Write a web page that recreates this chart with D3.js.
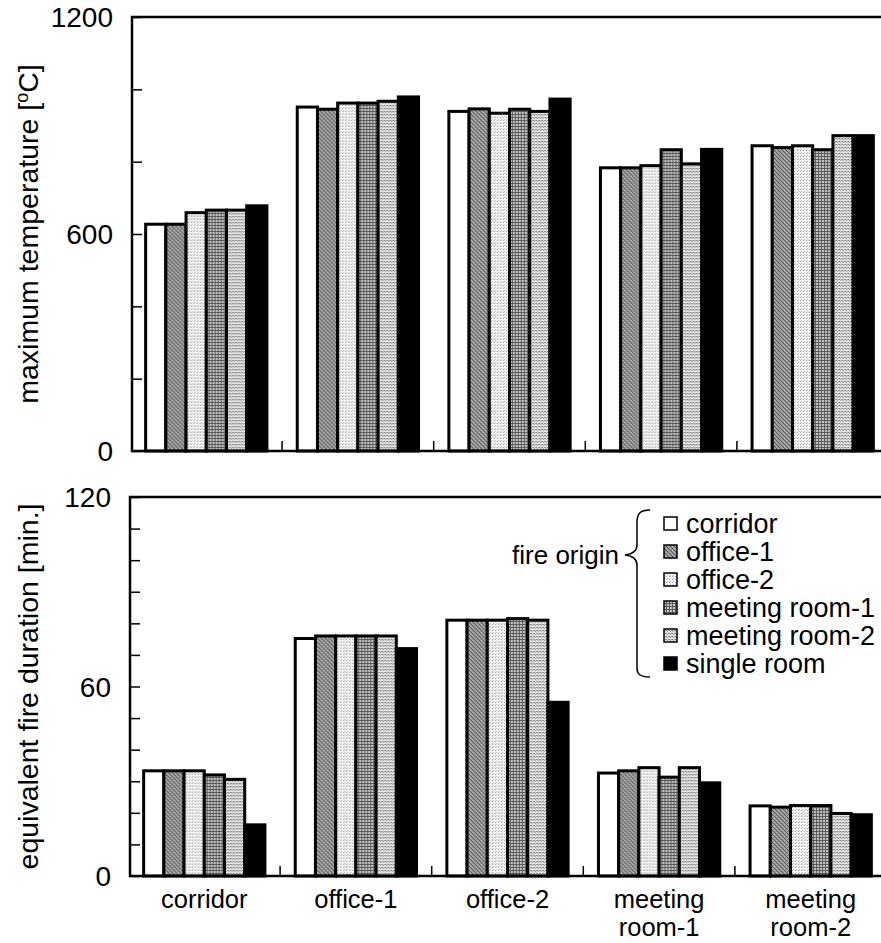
<!DOCTYPE html>
<html>
<head>
<meta charset="utf-8">
<script src="https://cdn.jsdelivr.net/npm/d3@7"></script>
<style>
  body { margin: 0; background: #fff; }
  svg text { font-family: "Liberation Sans", Arial, sans-serif; fill: #000; }
</style>
</head>
<body>
<svg id="chart" width="881" height="943"></svg>
<script>
// room where the fire is measured (x groups)
var rooms = ["corridor", "office-1", "office-2", "meeting room-1", "meeting room-2"];
var roomLabels = [["corridor"], ["office-1"], ["office-2"], ["meeting", "room-1"], ["meeting", "room-2"]];

// fire origin cases (series)
var origins = ["corridor", "office-1", "office-2", "meeting room-1", "meeting room-2", "single room"];

// maximum temperature [oC], one row per room, one value per origin
var maxTemp = [
    [627, 627, 659, 666, 666, 678],
    [951, 945, 962, 962, 967, 979],
    [939, 946, 934, 945, 939, 973],
    [783, 783, 789, 833, 794, 834],
    [844, 839, 844, 833, 872, 872]
];

// equivalent fire duration [min.]
var fireDur = [
    [33.3, 33.3, 33.3, 32.0, 30.6, 16.2],
    [75.2, 76.0, 76.0, 76.0, 76.0, 72.0],
    [81.0, 81.0, 81.0, 81.5, 81.0, 55.0],
    [32.6, 33.3, 34.3, 31.3, 34.3, 29.5],
    [22.2, 21.8, 22.3, 22.3, 19.8, 19.4]
];

var tempTicks = [0, 600, 1200];
var durTicks = [0, 60, 120];

var svg = d3.select("#chart");

//Fill patterns used for the fire origins
var defs = svg.append("defs");

function pattern(id, size, bg, dots) {
    var p = defs.append("pattern")
        .attr("id", id)
        .attr("patternUnits", "userSpaceOnUse")
        .attr("width", size).attr("height", size);
    p.append("rect").attr("width", size).attr("height", size).attr("fill", bg);
    dots.forEach(function (d) {
        p.append("rect").attr("x", d[0]).attr("y", d[1])
            .attr("width", d[2] || 1).attr("height", d[3] || 1).attr("fill", d[4]);
    });
}

pattern("pOffice1", 4, "#9a9a9a", [[0, 0, 1, 1, "#555"], [1, 1, 1, 1, "#555"], [2, 2, 1, 1, "#555"], [3, 3, 1, 1, "#555"], [2, 0, 1, 1, "#bbb"], [0, 2, 1, 1, "#bbb"]]);
pattern("pOffice2", 3, "#f4f4f4", [[0, 0, 1, 1, "#999"], [1, 2, 1, 1, "#bbb"]]);
pattern("pMeet1", 3, "#c4c4c4", [[0, 0, 3, 1, "#5a5a5a"], [0, 0, 1, 3, "#5a5a5a"]]);
pattern("pMeet2", 3, "#e2e2e2", [[0, 0, 1, 1, "#777"], [1, 1, 1, 1, "#999"], [2, 0, 1, 1, "#999"]]);

var fills = ["#fff", "url(#pOffice1)", "url(#pOffice2)", "url(#pMeet1)", "url(#pMeet2)", "#000"];

var rightEdge = 890;

function drawPanel(opts) {

    var g = svg.append("g");

    var x0 = d3.scaleBand()
        .domain(rooms)
        .range([opts.left, opts.left + 755])
        .paddingInner(0.2)
        .paddingOuter(0.09);

    var x1 = d3.scaleBand()
        .domain(origins)
        .range([0, x0.bandwidth()]);

    var y = d3.scaleLinear()
        .domain([0, opts.max])
        .range([opts.bottom, opts.top]);

    //Bars
    var grp = g.selectAll(".grp")
        .data(opts.data)
        .enter().append("g")
        .attr("transform", function (d, i) { return "translate(" + x0(rooms[i]) + ",0)"; });

    grp.selectAll("rect")
        .data(function (d) { return d; })
        .enter().append("rect")
        .attr("x", function (d, i) { return x1(origins[i]); })
        .attr("width", x1.bandwidth())
        .attr("y", function (d) { return y(d); })
        .attr("height", function (d) { return y(0) - y(d); })
        .attr("fill", function (d, i) { return fills[i]; })
        .attr("stroke", "#000")
        .attr("stroke-width", 3);

    //Minor ticks (inward)
    var yAxis = d3.axisRight(y)
        .tickValues(d3.range(0, opts.max + 0.001, opts.minor))
        .tickSize(10)
        .tickFormat("");

    var ax = g.append("g")
        .attr("transform", "translate(" + opts.left + ",0)")
        .call(yAxis);
    ax.select(".domain").remove();
    ax.selectAll("line").attr("stroke", "#000").attr("stroke-width", 1.5);

    //Frame: left, top, bottom
    g.append("path")
        .attr("d", "M" + rightEdge + "," + opts.top + "H" + opts.left + "V" + opts.bottom + "H" + rightEdge)
        .attr("fill", "none")
        .attr("stroke", "#000")
        .attr("stroke-width", 2.5);

    //Group separators on the x axis
    g.selectAll(".sep")
        .data(rooms.slice(1))
        .enter().append("line")
        .attr("x1", function (d) { return x0(d) - x0.step() * x0.paddingInner() / 2; })
        .attr("x2", function (d) { return x0(d) - x0.step() * x0.paddingInner() / 2; })
        .attr("y1", opts.bottom)
        .attr("y2", opts.bottom - 10)
        .attr("stroke", "#000")
        .attr("stroke-width", 1.5);

    //Tick labels
    g.selectAll(".tl")
        .data(opts.ticks)
        .enter().append("text")
        .attr("x", opts.left - 19)
        .attr("y", function (d) { return y(d); })
        .attr("dy", "0.36em")
        .attr("text-anchor", "end")
        .style("font-size", "28px")
        .text(function (d) { return d; });

    //Axis title
    var t = g.append("text")
        .attr("transform", "translate(38," + ((opts.top + opts.bottom) / 2) + ") rotate(-90)")
        .attr("text-anchor", "middle")
        .style("font-size", "28.5px");
    opts.title(t);

    return x0;
}

drawPanel({
    data: maxTemp, max: 1200, minor: 200, ticks: tempTicks,
    left: 132, top: 17, bottom: 451,
    title: function (t) {
        t.append("tspan").text("maximum temperature [");
        t.append("tspan").attr("baseline-shift", "super").style("font-size", "18px").text("o");
        t.append("tspan").text("C]");
    }
});

var x0 = drawPanel({
    data: fireDur, max: 120, minor: 10, ticks: durTicks,
    left: 130, top: 497, bottom: 876,
    title: function (t) { t.text("equivalent fire duration [min.]"); }
});

//Category labels, one text per line
roomLabels.forEach(function (lines, i) {
    lines.forEach(function (line, k) {
        svg.append("text")
            .attr("x", x0(rooms[i]) + x0.bandwidth() / 2)
            .attr("y", 908 + k * 28)
            .attr("text-anchor", "middle")
            .style("font-size", "25.5px")
            .text(line);
    });
});

//Legend
var leg = svg.append("g");
var legY = d3.scalePoint().domain(origins).range([523, 663]);

leg.selectAll("rect")
    .data(origins)
    .enter().append("rect")
    .attr("x", 664)
    .attr("y", function (d) { return legY(d) - 6; })
    .attr("width", 13)
    .attr("height", 13)
    .attr("fill", function (d, i) { return fills[i]; })
    .attr("stroke", "#000")
    .attr("stroke-width", 1.5);

leg.selectAll("text")
    .data(origins)
    .enter().append("text")
    .attr("x", 686)
    .attr("y", function (d) { return legY(d); })
    .attr("dy", "0.36em")
    .style("font-size", "27px")
    .text(function (d) { return d; });

//Brace and "fire origin"
leg.append("path")
    .attr("d", "M650,510 C640,510 637,514 637,522 L637,545 C637,551 633,554 625,555 " +
        "C633,556 637,559 637,565 L637,668 C637,674 640,677 650,677")
    .attr("fill", "none")
    .attr("stroke", "#000")
    .attr("stroke-width", 1.5);

leg.append("text")
    .attr("x", 619)
    .attr("y", 555)
    .attr("dy", "0.36em")
    .attr("text-anchor", "end")
    .style("font-size", "26px")
    .text("fire origin");
</script>
</body>
</html>
